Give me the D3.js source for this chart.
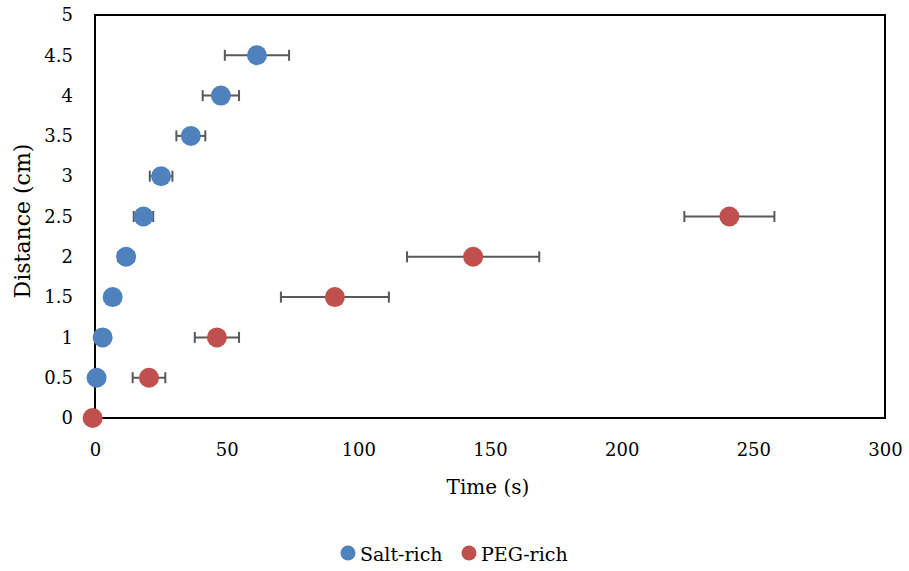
<!DOCTYPE html>
<html>
<head>
<meta charset="utf-8">
<script src="https://cdn.jsdelivr.net/npm/d3@7"></script>
<style>
  body { margin: 0; background: #fff; }
  svg text { fill: #000; font-family: 'DejaVu Serif', serif; }
</style>
</head>
<body>
<div id="chart"></div>
<script>
// data
var saltDist = [0.5, 1, 1.5, 2, 2.5, 3, 3.5, 4, 4.5];
var saltTime = [0.6, 2.9, 6.7, 11.8, 18.4, 25.1, 36.4, 47.8, 61.5];
var saltErr  = [0, 0, 0, 3.0, 3.7, 4.3, 5.5, 6.9, 12.2];
var pegDist = [0, 0.5, 1, 1.5, 2, 2.5];
var pegTime = [-0.9, 20.5, 46.3, 91.1, 143.6, 240.9];
var pegErr  = [0, 6.2, 8.4, 20.5, 25.1, 17.1];
var xTicks = [0, 50, 100, 150, 200, 250, 300];
var yTicks = [0, 0.5, 1, 1.5, 2, 2.5, 3, 3.5, 4, 4.5, 5];

var width = 909, height = 571;
var margin = {top: 15, right: 24, bottom: 153, left: 95};
var innerW = width - margin.left - margin.right;
var innerH = height - margin.top - margin.bottom;
var font = "DejaVu Serif";

var svg = d3.select("#chart").append("svg")
  .attr("width", width)
  .attr("height", height);

var x = d3.scaleLinear().domain([0, 300]).range([0, innerW]);
var y = d3.scaleLinear().domain([0, 5]).range([innerH, 0]);

var g = svg.append("g")
  .attr("transform", "translate(" + margin.left + "," + margin.top + ")");

// plot frame
g.append("rect")
  .attr("x", 0).attr("y", 0)
  .attr("width", innerW).attr("height", innerH)
  .attr("fill", "none")
  .attr("stroke", "#000")
  .attr("stroke-width", 2);

// axes (labels only)
var xAxis = g.append("g")
  .attr("transform", "translate(0," + innerH + ")")
  .call(d3.axisBottom(x).tickValues(xTicks).tickSize(0).tickPadding(25).tickFormat(d => String(d)))
  .attr("font-family", font)
  .attr("font-size", 18);
xAxis.select(".domain").remove();

var yAxis = g.append("g")
  .call(d3.axisLeft(y).tickValues(yTicks).tickSize(0).tickPadding(22).tickFormat(d => String(d)))
  .attr("font-family", font)
  .attr("font-size", 18);
yAxis.select(".domain").remove();

svg.append("text")
  .attr("x", 488)
  .attr("y", 494)
  .attr("text-anchor", "middle")
  .attr("font-size", 20)
  .text("Time (s)");

svg.append("text")
  .attr("transform", "translate(30,221) rotate(-90)")
  .attr("text-anchor", "middle")
  .attr("font-size", 22)
  .text("Distance (cm)");

var series = [
  {name: "Salt-rich", color: "#4f81bd", t: saltTime, d: saltDist, e: saltErr},
  {name: "PEG-rich", color: "#c0504d", t: pegTime, d: pegDist, e: pegErr}
];

series.forEach(function(s) {
  var pts = s.t.map(function(t, i) { return {t: t, d: s.d[i], e: s.e[i]}; });
  var eb = g.append("g")
    .attr("stroke", "#595959")
    .attr("stroke-width", 2);
  pts.filter(function(p) { return p.e > 0; }).forEach(function(p) {
    eb.append("line")
      .attr("x1", x(p.t - p.e)).attr("x2", x(p.t + p.e))
      .attr("y1", y(p.d)).attr("y2", y(p.d));
    [p.t - p.e, p.t + p.e].forEach(function(v) {
      eb.append("line")
        .attr("x1", x(v)).attr("x2", x(v))
        .attr("y1", y(p.d) - 5.5).attr("y2", y(p.d) + 5.5);
    });
  });
});

series.forEach(function(s) {
  var pts = s.t.map(function(t, i) { return {t: t, d: s.d[i]}; });
  g.selectAll(null)
    .data(pts)
    .enter().append("circle")
    .attr("cx", function(p) { return x(p.t); })
    .attr("cy", function(p) { return y(p.d); })
    .attr("r", 10)
    .attr("fill", s.color);
});

// legend
var legendX = [348, 469];
series.forEach(function(s, i) {
  var lg = svg.append("g").attr("transform", "translate(" + legendX[i] + ",553)");
  lg.append("circle").attr("r", 7.5).attr("fill", s.color);
  lg.append("text")
    .attr("x", 12)
    .attr("y", 8)
    .attr("font-size", 19)
    .text(s.name);
});
</script>
</body>
</html>
